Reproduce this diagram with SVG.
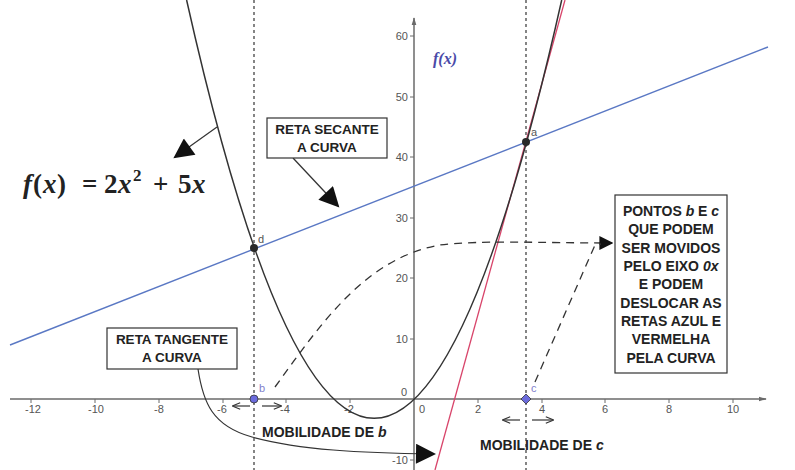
<svg xmlns="http://www.w3.org/2000/svg" width="795" height="470" viewBox="0 0 795 470">
<defs>
<style>
.axis{stroke:#6a6a6a;stroke-width:1.5;fill:none}
.tick{stroke:#6a6a6a;stroke-width:1}
.tl{font-family:"Liberation Sans",Arial,sans-serif;font-size:11px;fill:#555}
.vdash{stroke:#444;stroke-width:1.3;stroke-dasharray:3 3;fill:none}
.dash{stroke:#333;stroke-width:1.3;stroke-dasharray:8 6;fill:none}
.box{fill:#fff;stroke:#333;stroke-width:1.2}
.bt{font-family:"Liberation Sans",Arial,sans-serif;font-weight:bold;font-size:13.5px;fill:#222;text-anchor:middle}
.rt{font-size:14px}
.mob{font-family:"Liberation Sans",Arial,sans-serif;font-weight:bold;font-size:14px;fill:#222}
.conn{stroke:#333;stroke-width:1.2;fill:none}
.pl{font-family:"Liberation Sans",Arial,sans-serif;font-size:11px}
.fm{font-family:"Liberation Serif","Times New Roman",serif;font-weight:bold;font-size:27px;fill:#222}
</style>
<marker id="ah" viewBox="0 0 10 10" refX="9" refY="5" markerWidth="14" markerHeight="14" markerUnits="userSpaceOnUse" orient="auto">
<path d="M0,0 L10,5 L0,10 z" fill="#111"/>
</marker>
<marker id="big" viewBox="0 0 10 10" refX="9" refY="5" markerWidth="22" markerHeight="20" markerUnits="userSpaceOnUse" orient="auto">
<path d="M0,0 L10,5 L0,10 z" fill="#111"/>
</marker>
<marker id="sm" viewBox="0 0 10 10" refX="9" refY="5" markerWidth="9" markerHeight="8" markerUnits="userSpaceOnUse" orient="auto">
<path d="M0,1 L10,5 L0,9" fill="none" stroke="#333" stroke-width="1.5"/>
</marker>
<marker id="axa" viewBox="0 0 10 10" refX="9" refY="5" markerWidth="8" markerHeight="8" markerUnits="userSpaceOnUse" orient="auto">
<path d="M0,2 L10,5 L0,8 z" fill="#6a6a6a"/>
</marker>
</defs>
<rect width="795" height="470" fill="#fff"/>

<g id="axes">
<line class="axis" x1="10" y1="399" x2="766" y2="399" marker-end="url(#axa)"/>
<line class="axis" x1="414" y1="470" x2="414" y2="18" marker-end="url(#axa)"/>
<g class="tick">
<line x1="31" y1="399" x2="31" y2="403"/><line x1="95" y1="399" x2="95" y2="403"/><line x1="159" y1="399" x2="159" y2="403"/><line x1="223" y1="399" x2="223" y2="403"/><line x1="286" y1="399" x2="286" y2="403"/><line x1="350" y1="399" x2="350" y2="403"/><line x1="478" y1="399" x2="478" y2="403"/><line x1="542" y1="399" x2="542" y2="403"/><line x1="605" y1="399" x2="605" y2="403"/><line x1="669" y1="399" x2="669" y2="403"/><line x1="733" y1="399" x2="733" y2="403"/>
<line x1="410" y1="36" x2="414" y2="36"/><line x1="410" y1="97" x2="414" y2="97"/><line x1="410" y1="157" x2="414" y2="157"/><line x1="410" y1="218" x2="414" y2="218"/><line x1="410" y1="278" x2="414" y2="278"/><line x1="410" y1="339" x2="414" y2="339"/><line x1="410" y1="460" x2="414" y2="460"/>
</g>
<g class="tl" text-anchor="middle">
<text x="33" y="413">-12</text><text x="96" y="413">-10</text><text x="159" y="413">-8</text><text x="222" y="413">-6</text><text x="285" y="413">-4</text><text x="349" y="413">-2</text><text x="422" y="413">0</text><text x="478" y="413">2</text><text x="542" y="413">4</text><text x="605" y="413">6</text><text x="669" y="413">8</text><text x="733" y="413">10</text>
</g>
<g class="tl" text-anchor="end">
<text x="408" y="40">60</text><text x="408" y="101">50</text><text x="408" y="161">40</text><text x="408" y="222">30</text><text x="408" y="282">20</text><text x="408" y="343">10</text><text x="407" y="396">0</text><text x="408" y="464">-10</text>
</g>
</g>

<g id="vertical-lines">
<line class="vdash" x1="254" y1="0" x2="254" y2="470"/>
<line class="vdash" x1="526" y1="0" x2="526" y2="470"/>
</g>

<g id="secant-line">
<line x1="10" y1="345" x2="768" y2="47" stroke="#5a78c4" stroke-width="1.4"/>
</g>
<g id="tangent-line">
<line x1="435" y1="470" x2="565" y2="0" stroke="#d8446a" stroke-width="1.3"/>
</g>
<g id="parabola">
<path d="M186.6,0 Q374.1,836.7 561.7,0" fill="none" stroke="#333" stroke-width="1.5"/>
</g>

<g id="connectors">
<line class="conn" x1="217" y1="127" x2="175" y2="157" marker-end="url(#big)"/>
<line class="conn" x1="293" y1="158" x2="338" y2="206" marker-end="url(#big)"/>
<path class="conn" d="M198,369 C203,402 212,426 252,437 C300,450 360,453 434,454" marker-end="url(#big)"/>
<path class="dash" d="M275,387 C320,325 365,258 440,245 C480,240 540,243 612,243" marker-end="url(#ah)"/>
<path class="dash" d="M535,382 L595,245 L601,244"/>
<line class="conn" x1="250" y1="406" x2="233" y2="406" marker-end="url(#sm)"/>
<line class="conn" x1="262" y1="406" x2="281" y2="406" marker-end="url(#sm)"/>
<line class="conn" x1="520" y1="420" x2="503" y2="420" marker-end="url(#sm)"/>
<line class="conn" x1="532" y1="420" x2="553" y2="420" marker-end="url(#sm)"/>
</g>

<g id="points">
<circle cx="254" cy="248" r="4" fill="#2a2a2a"/>
<text class="pl" x="258" y="243" fill="#555">d</text>
<circle cx="526" cy="142" r="4" fill="#2a2a2a"/>
<text class="pl" x="531" y="136" fill="#555">a</text>
<circle cx="254" cy="399" r="4" fill="#6b6bdc" stroke="#333" stroke-width="0.8"/>
<text class="pl" x="259" y="392" fill="#8080cc">b</text>
<path d="M526,394 L531,399 L526,404 L521,399 z" fill="#6b6bdc" stroke="#333" stroke-width="0.8"/>
<text class="pl" x="531" y="392" fill="#8080cc">c</text>
</g>

<g id="formula">
<text class="fm" y="193"><tspan x="23" font-style="italic">f</tspan><tspan x="33">(</tspan><tspan x="43" font-style="italic">x</tspan><tspan x="57">)</tspan><tspan x="82">=</tspan><tspan x="104">2</tspan><tspan x="118" font-style="italic">x</tspan><tspan x="133" y="181" font-size="17">2</tspan><tspan x="153" y="193">+</tspan><tspan x="178">5</tspan><tspan x="192" font-style="italic">x</tspan></text>
</g>
<g id="fx-label">
<text x="433" y="64" font-family="'Liberation Serif','Times New Roman',serif" font-weight="bold" font-style="italic" font-size="16" fill="#4a4aa8">f(x)</text>
</g>

<g id="box-secante">
<rect class="box" x="267" y="118" width="120" height="40"/>
<text class="bt" x="327" y="134">RETA SECANTE</text>
<text class="bt" x="327" y="152">A CURVA</text>
</g>

<g id="box-tangente">
<rect class="box" x="107" y="328" width="130" height="41"/>
<text class="bt" x="172" y="344">RETA TANGENTE</text>
<text class="bt" x="172" y="362">A CURVA</text>
</g>

<g id="box-pontos">
<rect class="box" x="615" y="195" width="112" height="178"/>
<g class="bt rt">
<text x="671" y="216">PONTOS <tspan font-style="italic">b</tspan> E <tspan font-style="italic">c</tspan></text>
<text x="671" y="234">QUE PODEM</text>
<text x="671" y="253">SER MOVIDOS</text>
<text x="671" y="271">PELO EIXO <tspan font-style="italic">0x</tspan></text>
<text x="671" y="289">E PODEM</text>
<text x="671" y="308">DESLOCAR AS</text>
<text x="671" y="326">RETAS AZUL E</text>
<text x="671" y="344">VERMELHA</text>
<text x="671" y="363">PELA CURVA</text>
</g>
</g>

<g id="mobilidade-b">
<text class="mob" x="262" y="437">MOBILIDADE DE <tspan font-style="italic">b</tspan></text>
</g>
<g id="mobilidade-c">
<text class="mob" x="480" y="450">MOBILIDADE DE  <tspan font-style="italic">c</tspan></text>
</g>
</svg>
